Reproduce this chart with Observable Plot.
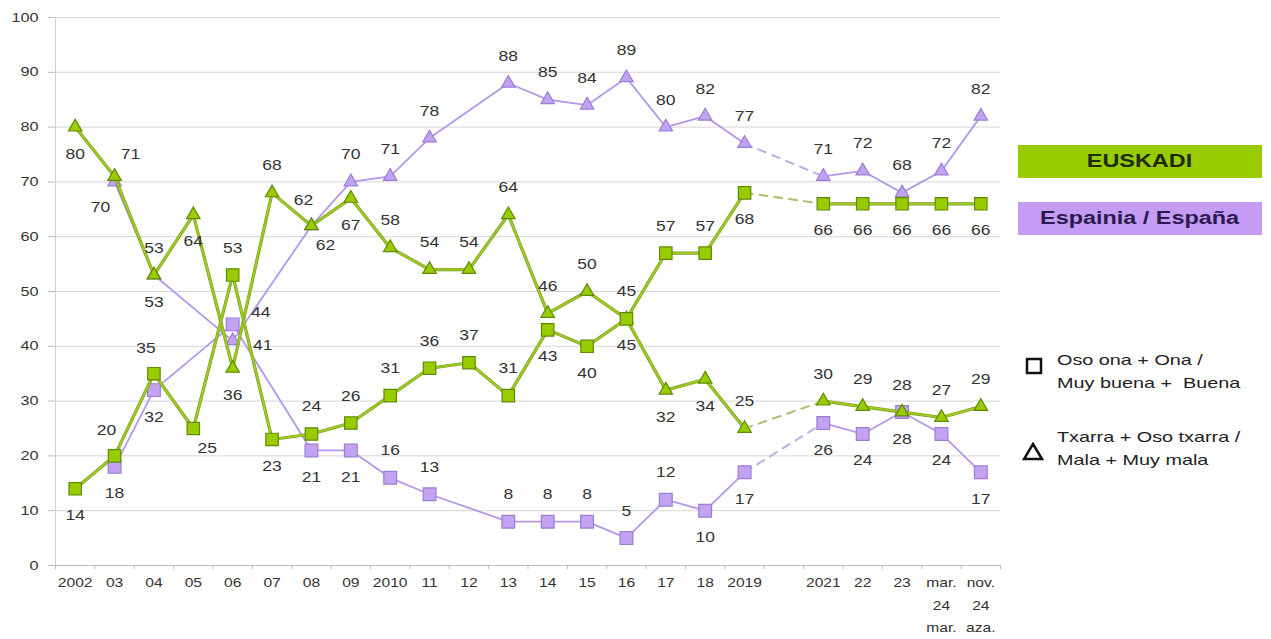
<!DOCTYPE html>
<html><head><meta charset="utf-8">
<script src="https://cdn.jsdelivr.net/npm/d3@7"></script>
<script src="https://cdn.jsdelivr.net/npm/@observablehq/plot@0.6"></script>
<style>
body{margin:0;background:#fff;font-family:"Liberation Sans",Arial,sans-serif;}
#wrap{position:relative;width:1271px;height:639px;overflow:hidden;}
.box{position:absolute;left:1018px;width:244px;height:33px;display:flex;align-items:center;justify-content:center;font-weight:bold;font-size:18px;}
.box span{display:inline-block;transform:scaleX(1.3);}
.leg{position:absolute;left:1057px;font-size:15px;line-height:23px;color:#222;transform:scaleX(1.32);transform-origin:left center;white-space:nowrap;}
</style></head><body>
<div id="wrap">
<div id="chart"></div>
<div class="box" style="top:145px;background:#99cc00;color:#1f2a05;"><span>EUSKADI</span></div>
<div class="box" style="top:202px;background:#c49cf4;color:#2b1a4f;"><span>Espainia / España</span></div>
<svg style="position:absolute;left:1025px;top:357px" width="20" height="20"><rect x="2" y="2" width="14" height="14" fill="none" stroke="#111" stroke-width="2.5"/></svg>
<div class="leg" style="top:348px;">Oso ona + Ona /<br>Muy buena +&nbsp; Buena</div>
<svg style="position:absolute;left:1022px;top:442px" width="24" height="20"><path d="M11 2 L20 17 L2 17 Z" fill="none" stroke="#111" stroke-width="2.5" stroke-linejoin="miter"/></svg>
<div class="leg" style="top:425px;">Txarra + Oso txarra /<br>Mala + Muy mala</div>
</div>
<script>
const categories = ["2002","03","04","05","06","07","08","09","2010","11","12","13","14","15","16","17","18","2019","","2021","22","23","mar.\n24\nmar.","nov.\n24\naza."];
const euskadiGood = [14,20,35,25,53,23,24,26,31,36,37,31,43,40,45,57,57,68,null,66,66,66,66,66];
const euskadiBad  = [80,71,53,64,36,68,62,67,58,54,54,64,46,50,45,32,34,25,null,30,29,28,27,29];
const spainGood   = [null,18,32,null,44,null,21,21,16,13,null,8,8,8,5,12,10,17,null,26,24,28,24,17];
const spainBad    = [null,70,53,null,41,null,62,70,71,78,null,88,85,84,89,80,82,77,null,71,72,68,72,82];

// label placement codes (style, not data)
const euskadiGoodPos = ["b","al","al","br","a","b","a","a","a","a","a","a","b","b","b","a","a","b",null,"b","b","b","b","b"];
const euskadiBadPos  = ["b","ar","b","b","b","a","br","b","a","a","a","a","a","a","a","b","b","a",null,"a","a","a","a","a"];
const spainGoodPos   = [null,"b","b",null,"ru",null,"b","b","a","a",null,"a","a","a","a","a","b","b",null,"b","b","b","b","b"];
const spainBadPos    = [null,"bl","a",null,"rd",null,"al","a","a","a",null,"a","a","a","a","a","a","a",null,"a","a","a","a","a"];

const offsets = {a:[0,-27], b:[0,27], al:[-8,-25], ar:[16,-22], bl:[-14,26], br:[14,20], ru:[28,-12], rd:[30,5]};

const gapIndex = categories.indexOf("");
function rows(values, pos, name){
  return values.map((v,i)=>({i, v, pos:pos[i], name, seg: i < gapIndex ? 0 : 1})).filter(d=>d.v!=null);
}
const purple = {fill:"#c3a2f2", stroke:"#9a7dd6", line:"#b497ea", under:null, lw:1.8, dash:"#bcaee6"};
const green = {fill:"#99cc00", stroke:"#5f8a00", line:"#9fcc1c", under:"#7a9a2a", lw:2.0, dash:"#a8c070"};
const series = [
  {data: rows(spainGood, spainGoodPos, "spainGood"), symbol:"square", r:7.2, ...purple},
  {data: rows(spainBad, spainBadPos, "spainBad"), symbol:"triangle", r:5, ...purple},
  {data: rows(euskadiBad, euskadiBadPos, "euskadiBad"), symbol:"triangle", r:5, ...green},
  {data: rows(euskadiGood, euskadiGoodPos, "euskadiGood"), symbol:"square", r:7, ...green}
];

const marks = [
  Plot.gridY(d3.range(10,101,10), {stroke:"#d6d6d6", strokeOpacity:1, strokeWidth:1}),
  Plot.ruleX([-0.5], {stroke:"#cfcfcf"}),
  Plot.ruleY([0], {stroke:"#bdbdbd"}),
  Plot.axisY(d3.range(0,101,10), {tickSize:7, tickPadding:10, fontSize:13, fill:"#333", stroke:"#bbb", label:null}),
  Plot.axisX(d3.range(0,categories.length+1).map(i=>i-0.5), {tickSize:4, tickFormat:()=>"", stroke:"#bbb", label:null}),
  Plot.axisX(d3.range(0,categories.length), {tickSize:0, tickPadding:6, tickFormat:i=>categories[i], fontSize:12.5, fill:"#333", lineHeight:1.8, label:null})
];

for (const s of series){
  const dashed = s.data.filter(d=>d.i===gapIndex-1 || d.i===gapIndex+1);
  marks.push(Plot.line(dashed, {x:"i", y:"v", stroke:s.dash, strokeWidth:2, strokeDasharray:"8,7"}));
  if (s.under) marks.push(Plot.line(s.data, {x:"i", y:"v", z:"seg", stroke:s.under, strokeWidth:3.2}));
  marks.push(Plot.line(s.data, {x:"i", y:"v", z:"seg", stroke:s.line, strokeWidth:s.lw}));
  marks.push(Plot.dot(s.data, {x:"i", y:"v", symbol:()=>s.symbol, r:s.r, fill:s.fill, stroke:s.stroke, strokeWidth:1.2}));
}
for (const s of series){
  for (const [code,[dx,dy]] of Object.entries(offsets)){
    marks.push(Plot.text(s.data.filter(d=>d.pos===code), {x:"i", y:"v", text:d=>String(d.v), dx, dy, fontSize:14, fill:"#333"}));
  }
}

const chart = Plot.plot({
  width:1271, height:639,
  marginLeft:55, marginRight:271, marginTop:17, marginBottom:74,
  style:{fontFamily:"'Liberation Sans', Arial, sans-serif", background:"transparent"},
  x:{type:"linear", domain:[-0.5, categories.length-0.5], axis:null},
  y:{domain:[0,100], axis:null},
  marks
});
// widen glyphs horizontally to match the reference's stretched lettering
d3.select(chart).selectAll("text").each(function(){
  const t = this.getAttribute("transform");
  if (t) this.setAttribute("transform", t + " scale(1.25,1)");
  else {
    const x = +(this.getAttribute("x")||0), y = +(this.getAttribute("y")||0);
    this.removeAttribute("x"); this.removeAttribute("y");
    this.setAttribute("transform", `translate(${x},${y}) scale(1.25,1)`);
  }
});
document.getElementById("chart").appendChild(chart);
</script>
</body></html>
